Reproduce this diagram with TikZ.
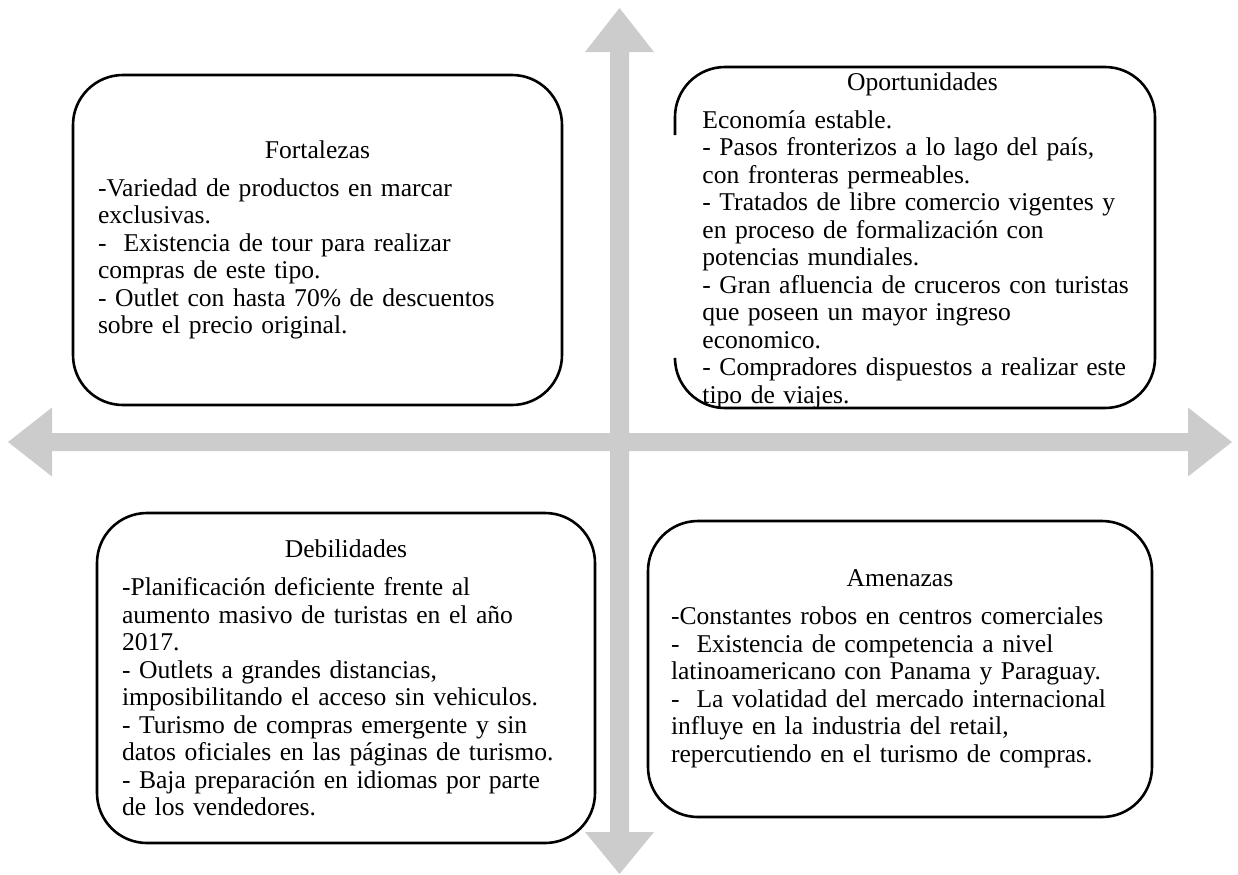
\documentclass[tikz,border=0pt]{standalone}
\usepackage{fontspec}
\setmainfont{Liberation Serif}
\usepackage{tikz}
\definecolor{axisgray}{RGB}{204, 204, 204}
\newcommand{\swotfont}{\fontsize{12.8pt}{13.75pt}\selectfont}

\begin{document}
\begin{tikzpicture}[x=0.5pt, y=-0.5pt,
    swot box/.style={draw=black, line width=1.3pt, rounded corners=25pt},
    swot text/.style={align=left, inner sep=0pt, font=\swotfont},
    axis arrow/.style={fill=axisgray}]
    \useasboundingbox (0,0) rectangle (1238,874);
    % Two grey double arrows as axes
    \fill[axis arrow] (8,442) -- (52,407.5) -- (52,433) -- (1188,433) -- (1188,407.5) -- (1232,442)
        -- (1188,476.5) -- (1188,451) -- (52,451) -- (52,476.5) -- cycle;
    \fill[axis arrow] (619.5,8) -- (654,52) -- (629,52) -- (629,832) -- (654,832) -- (619.5,874)
        -- (585,832) -- (610,832) -- (610,52) -- (585,52) -- cycle;
    % Quadrant boxes (left side of Oportunidades is hidden behind its text)
    \draw[swot box] (73,75) rectangle (562,405);
    \draw[swot box] (675,360) |- (1155,408) |- (675,67) -- (675,135);
    \draw[swot box] (97,513) rectangle (595,843);
    \draw[swot box] (648,521) rectangle (1152,817);
    % Quadrant texts
    \node[swot text, text width=219.5pt] (fort) at (317.5,240) {\makebox[\linewidth]{Fortalezas}\\[5.25pt]
        -Variedad de productos en marcar\\
        exclusivas.\\
        -~ Existencia de tour para realizar\\
        compras de este tipo.\\
        - Outlet con hasta 70\% de descuentos\\
        sobre el precio original.};
    \node[swot text, text width=220pt, anchor=north west] (opor) at (702,72) {\makebox[\linewidth]{Oportunidades}\\[5.25pt]
        Economía estable.\\
        - Pasos fronterizos a lo lago del país,\\
        con fronteras permeables.\\
        - Tratados de libre comercio vigentes y\\
        en proceso de formalización con\\
        potencias mundiales.\\
        - Gran afluencia de cruceros con turistas\\
        que poseen un mayor ingreso\\
        economico.\\
        - Compradores dispuestos a realizar este\\
        tipo de viajes.};
    \node[swot text, text width=224pt] (debi) at (346,678) {\makebox[\linewidth]{Debilidades}\\[5.25pt]
        -Planificación deficiente frente al\\
        aumento masivo de turistas en el año\\
        2017.\\
        - Outlets a grandes distancias,\\
        imposibilitando el acceso sin vehiculos.\\
        - Turismo de compras emergente y sin\\
        datos oficiales en las páginas de turismo.\\
        - Baja preparación en idiomas por parte\\
        de los vendedores.};
    \node[swot text, text width=229pt] (amen) at (900,669) {\makebox[\linewidth]{Amenazas}\\[5.25pt]
        -Constantes robos en centros comerciales\\
        -~ Existencia de competencia a nivel\\
        latinoamericano con Panama y Paraguay.\\
        -~ La volatidad del mercado internacional\\
        influye en la industria del retail,\\
        repercutiendo en el turismo de compras.};
\end{tikzpicture}
\end{document}
